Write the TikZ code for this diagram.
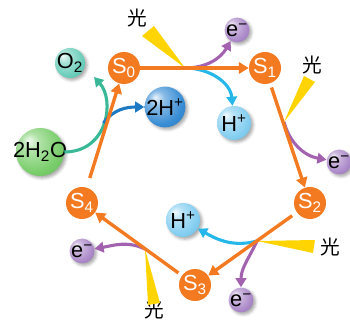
\documentclass[tikz,border=0pt]{standalone}
\usepackage{fontspec}
\setmainfont{Liberation Sans}
\newfontfamily\cjk{Noto Sans CJK SC}
\usetikzlibrary{arrows.meta,shadows.blur}

\definecolor{stateorange}{RGB}{243,122,32}
\definecolor{lightyellow}{RGB}{255,212,0}
\definecolor{electronarrow}{RGB}{163,98,175}
\definecolor{protonarrow}{RGB}{38,183,234}
\definecolor{protonsarrow}{RGB}{28,122,196}
\definecolor{oxyarrow}{RGB}{56,184,150}
\definecolor{oxyc}{RGB}{105,205,185}
\definecolor{waterc}{RGB}{120,205,105}
\definecolor{protonsc}{RGB}{55,140,212}
\definecolor{protonc}{RGB}{130,205,240}
\definecolor{electronc}{RGB}{170,135,200}

\makeatletter
\pgfdeclareradialshading[tikz@ball]{softball}{\pgfqpoint{-12bp}{12bp}}{%
  color(0bp)=(tikz@ball!10!white);
  color(10bp)=(tikz@ball!60!white);
  color(28bp)=(tikz@ball);
  color(42bp)=(tikz@ball!88!black);
  color(60bp)=(tikz@ball!72!black)}
\makeatother

\newcommand{\balltext}[1]{\makebox[0pt]{#1}}

\begin{document}
\begin{tikzpicture}[
state/.style={circle,fill=stateorange,text=white,minimum size=0.8cm,inner sep=0pt,font=\fontsize{15.5}{17}\selectfont},
ball/.style={circle,inner sep=0pt,ball color=#1,shading=softball,font=\fontsize{15.5}{17}\selectfont,
  blur shadow={shadow xshift=1.5pt,shadow yshift=-1.5pt,shadow blur radius=2pt,shadow opacity=35}},
lightlabel/.style={font=\cjk\fontsize{14}{16}\selectfont,inner sep=0pt},
light/.style={fill=lightyellow},
arrow/.style={-{Triangle[length=7pt,width=8pt]},line width=2.4pt,draw=stateorange},
flow/.style={-{Triangle[length=6.5pt,width=7.5pt]},line width=2.2pt,draw=#1} ]

\useasboundingbox (0,0) rectangle (8.75,8);

\node[state](s0) at (3.1,6.3) {S\textsubscript{0}};

\node[state](s1) at (6.625,6.3) {S\textsubscript{1}};

\node[state](s2) at (7.75,2.925) {S\textsubscript{2}};

\node[state](s3) at (4.875,0.875) {S\textsubscript{3}};

\node[state](s4) at (2.05,2.925) {S\textsubscript{4}};

\node[ball=oxyc,minimum size=0.75cm](oxy) at (1.75,6.425) {\balltext{O\textsubscript{2}}};

\node[ball=waterc,minimum size=1.2cm](water) at (1.0,4.2) {\balltext{2H\textsubscript{2}O}};

\node[ball=protonsc,minimum size=1.02cm](hh) at (4.125,5.325) {\balltext{2H\textsuperscript{+}}};

\node[ball=protonc,minimum size=0.85cm](htop) at (5.85,4.925) {\balltext{H\textsuperscript{+}}};

\node[ball=protonc,minimum size=0.85cm](hlow) at (4.575,2.5) {\balltext{H\textsuperscript{+}}};

\node[ball=electronc,minimum size=0.62cm](etop) at (5.925,7.25) {\balltext{e\textsuperscript{−}}};

\node[ball=electronc,minimum size=0.62cm](eright) at (8.475,3.95) {\balltext{e\textsuperscript{−}}};

\node[ball=electronc,minimum size=0.62cm](ebottom) at (6.025,0.5) {\balltext{e\textsuperscript{−}}};

\node[ball=electronc,minimum size=0.62cm](eleft) at (2.05,1.725) {\balltext{e\textsuperscript{−}}};

\node[lightlabel](l1) at (3.425,7.55) {光};

\node[lightlabel](l2) at (7.8,6.375) {光};

\node[lightlabel](l3) at (8.25,1.825) {光};

\node[lightlabel](l4) at (3.85,0.25) {光};

\coordinate (p1) at (4.625,6.3);
\coordinate (p2) at (7.1,4.95);
\coordinate (p3) at (6.425,1.975);
\coordinate (p4) at (3.625,1.775);

\fill[light] (3.55,7.1) -- (3.85,7.35) -- (p1) -- cycle;

\fill[light] (7.6,6.1) -- (7.875,5.95) -- (p2) -- cycle;

\fill[light] (7.875,2.0) -- (7.825,1.675) -- (p3) -- cycle;

\fill[light] (3.7,0.375) -- (4.0,0.425) -- (p4) -- cycle;

\draw[flow=oxyarrow] (water.east) .. controls (2.7,4.2) and (2.875,5.5) .. coordinate[pos=0.5](branch) ([shift={(0.33,-0.08)}]oxy.south east);

\draw[flow=protonsarrow] (branch) to[out=55,in=180] (hh);

\draw[flow=electronarrow] (p1) to[out=0,in=240] (etop);

\draw[flow=protonarrow] (p1) to[out=0,in=95] (htop);

\draw[flow=electronarrow] (p2) to[out=-75,in=170] (eright);

\draw[flow=protonarrow] (p3) to[out=195,in=-30] (hlow);

\draw[flow=electronarrow] (p3) to[out=-115,in=90] (ebottom);

\draw[flow=electronarrow] (p4) to[out=155,in=10] (eleft);

\draw[arrow] (s0) -- (s1);

\draw[arrow,shorten <=3pt] (s1) -- (s2);

\draw[arrow,shorten <=4pt] (s2) -- (s3);

\draw[arrow,shorten <=3pt] (s3) -- (s4);

\draw[arrow,shorten <=7pt] (s4) -- (s0);

\end{tikzpicture}
\end{document}
